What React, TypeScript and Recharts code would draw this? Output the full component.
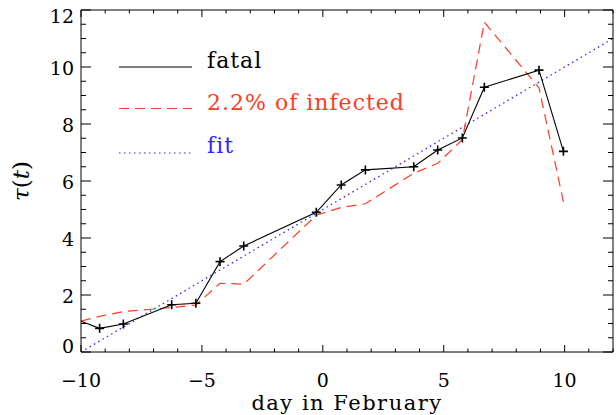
import { Legend, Line, LineChart, XAxis, YAxis } from 'recharts';

// day offsets of the observations and the two measured curves
const days = [-10, -9.23, -8.25, -6.25, -5.25, -4.25, -3.27, -0.27, 0.76, 1.76, 3.76, 4.75, 5.77, 6.68, 8.94, 9.95];
const fatalValues = [1.08, 0.83, 0.98, 1.66, 1.71, 3.17, 3.72, 4.9, 5.86, 6.39, 6.5, 7.09, 7.51, 9.29, 9.89, 7.04];
const infectedValues = [1.08, 1.25, 1.42, 1.56, 1.65, 2.41, 2.38, 4.8, 5.07, 5.2, 6.27, 6.62, 7.45, 11.57, 9.27, 5.27];

// straight-line fit
const fitDays = [-10, 12];
const fitValues = [0, 11];

const xTicks = [-10, -9, -8, -7, -6, -5, -4, -3, -2, -1, 0, 1, 2, 3, 4, 5, 6, 7, 8, 9, 10, 11, 12];
const xLabels = [-10, -5, 0, 5, 10];
const yTicks = [0, 0.5, 1, 1.5, 2, 2.5, 3, 3.5, 4, 4.5, 5, 5.5, 6, 6.5, 7, 7.5, 8, 8.5, 9, 9.5, 10, 10.5, 11, 11.5, 12];
const yLabels = [0, 2, 4, 6, 8, 10, 12];

const FONT = '"DejaVu Serif", serif';
const RED = '#ff3c1e';
const BLUE = '#3226ff';

const fatalData = days.map((day, i) => ({ day, value: fatalValues[i] }));
const infectedData = days.map((day, i) => ({ day, value: infectedValues[i] }));
const fitData = fitDays.map((day, i) => ({ day, value: fitValues[i] }));

const legendItems = [
  { label: 'fatal', color: '#000', dash: undefined, lineY: 23, textY: 24 },
  { label: '2.2% of infected', color: RED, dash: '10 6', lineY: 64.5, textY: 66 },
  { label: 'fit', color: BLUE, dash: '1.5 3.5', lineY: 109, textY: 109 },
];

const fmt = (v: number) => (v < 0 ? `\u2212${Math.abs(v)}` : `${v}`);

function BottomTick({ x, y, payload }: any) {
  const major = xLabels.includes(payload.value);
  return (
    <g>
      <line x1={x} x2={x} y1={y} y2={y - (major ? 7 : 3.5)} stroke="#000" />
      {major && (
        <text x={x} y={y + 35} textAnchor="middle" fontFamily={FONT} fontSize={19} fill="#000">
          {fmt(payload.value)}
        </text>
      )}
    </g>
  );
}

function TopTick({ x, y, payload }: any) {
  const major = xLabels.includes(payload.value);
  return <line x1={x} x2={x} y1={y} y2={y + (major ? 7 : 3.5)} stroke="#000" />;
}

function LeftTick({ x, y, payload }: any) {
  const major = yLabels.includes(payload.value);
  const shift = payload.value === 12 ? 6 : payload.value === 0 ? -6 : 1;
  return (
    <g>
      <line x1={x} x2={x + (major ? 10 : 5)} y1={y} y2={y} stroke="#000" />
      {major && (
        <text
          x={x - 7}
          y={y + shift + 7}
          textAnchor="end"
          fontFamily={FONT}
          fontSize={19}
          fill="#000"
        >
          {payload.value}
        </text>
      )}
    </g>
  );
}

function RightTick({ x, y, payload }: any) {
  const major = yLabels.includes(payload.value);
  return <line x1={x} x2={x - (major ? 10 : 5)} y1={y} y2={y} stroke="#000" />;
}

function PlusDot({ cx, cy, index, payload }: any) {
  if (payload.day <= -10) return <g key={index} />;
  return (
    <path
      key={index}
      d={`M${cx - 4.5},${cy}H${cx + 4.5}M${cx},${cy - 4.5}V${cy + 4.5}`}
      stroke="#000"
      strokeWidth={1.6}
      fill="none"
    />
  );
}

function XLabel({ viewBox }: any) {
  return (
    <text
      x={viewBox.x + viewBox.width / 2}
      y={viewBox.y + 58}
      textAnchor="middle"
      fontFamily={FONT}
      fontSize={21}
      letterSpacing={1.5}
      fill="#000"
    >
      day in February
    </text>
  );
}

function YLabel({ viewBox }: any) {
  const cx = viewBox.x + 21;
  const cy = viewBox.y + viewBox.height / 2;
  return (
    <text
      x={cx}
      y={cy}
      transform={`rotate(-90 ${cx} ${cy})`}
      textAnchor="middle"
      dominantBaseline="central"
      fontFamily={FONT}
      fontSize={23}
      fill="#000"
    >
      <tspan fontStyle="italic">τ</tspan>(<tspan fontStyle="italic">t</tspan>)
    </text>
  );
}

function ChartLegend() {
  return (
    <svg width={320} height={120}>
      {legendItems.map((item) => (
        <g key={item.label}>
          <line
            x1={0}
            x2={73}
            y1={item.lineY}
            y2={item.lineY}
            stroke={item.color}
            strokeWidth={1.2}
            strokeDasharray={item.dash}
          />
          <text
            x={88}
            y={item.textY}
            fontFamily={FONT}
            fontSize={22}
            letterSpacing={1}
            fill={item.color}
          >
            {item.label}
          </text>
        </g>
      ))}
    </svg>
  );
}

export default function App() {
  return (
    <div style={{ position: 'absolute', left: 0, top: 0, background: '#fff' }}>
      <LineChart width={616} height={415} margin={{ top: 9, right: 2, bottom: 0, left: 0 }}>
        <XAxis
          xAxisId="x"
          dataKey="day"
          type="number"
          domain={[-10, 12]}
          ticks={xTicks}
          interval={0}
          height={63}
          tickSize={0}
          tickMargin={0}
          tickLine={false}
          axisLine={{ stroke: '#000' }}
          tick={<BottomTick />}
          label={<XLabel />}
          allowDataOverflow
        />
        <XAxis
          xAxisId="top"
          orientation="top"
          dataKey="day"
          type="number"
          domain={[-10, 12]}
          ticks={xTicks}
          interval={0}
          height={1}
          tickSize={0}
          tickMargin={0}
          tickLine={false}
          axisLine={{ stroke: '#000' }}
          tick={<TopTick />}
          allowDataOverflow
        />
        <YAxis
          yAxisId="y"
          type="number"
          domain={[0, 12]}
          ticks={yTicks}
          interval={0}
          width={81}
          tickSize={0}
          tickMargin={0}
          tickLine={false}
          axisLine={{ stroke: '#000' }}
          tick={<LeftTick />}
          label={<YLabel />}
          allowDataOverflow
        />
        <YAxis
          yAxisId="right"
          orientation="right"
          type="number"
          domain={[0, 12]}
          ticks={yTicks}
          interval={0}
          width={1}
          tickSize={0}
          tickMargin={0}
          tickLine={false}
          axisLine={{ stroke: '#000' }}
          tick={<RightTick />}
          allowDataOverflow
        />
        <Legend
          layout="vertical"
          align="center"
          verticalAlign="middle"
          wrapperStyle={{ left: 119, top: 44, width: 320, height: 120 }}
          content={() => <ChartLegend />}
        />
        <Line
          xAxisId="x"
          yAxisId="y"
          data={fitData}
          dataKey="value"
          stroke={BLUE}
          strokeWidth={1.3}
          strokeDasharray="1.5 3.5"
          dot={false}
          isAnimationActive={false}
        />
        <Line
          xAxisId="x"
          yAxisId="y"
          data={infectedData}
          dataKey="value"
          stroke={RED}
          strokeWidth={1.2}
          strokeDasharray="10 6"
          dot={false}
          isAnimationActive={false}
        />
        <Line
          xAxisId="x"
          yAxisId="y"
          data={fatalData}
          dataKey="value"
          stroke="#000"
          strokeWidth={1.1}
          dot={(props: any) => <PlusDot key={props.index} {...props} />}
          isAnimationActive={false}
        />
      </LineChart>
    </div>
  );
}
